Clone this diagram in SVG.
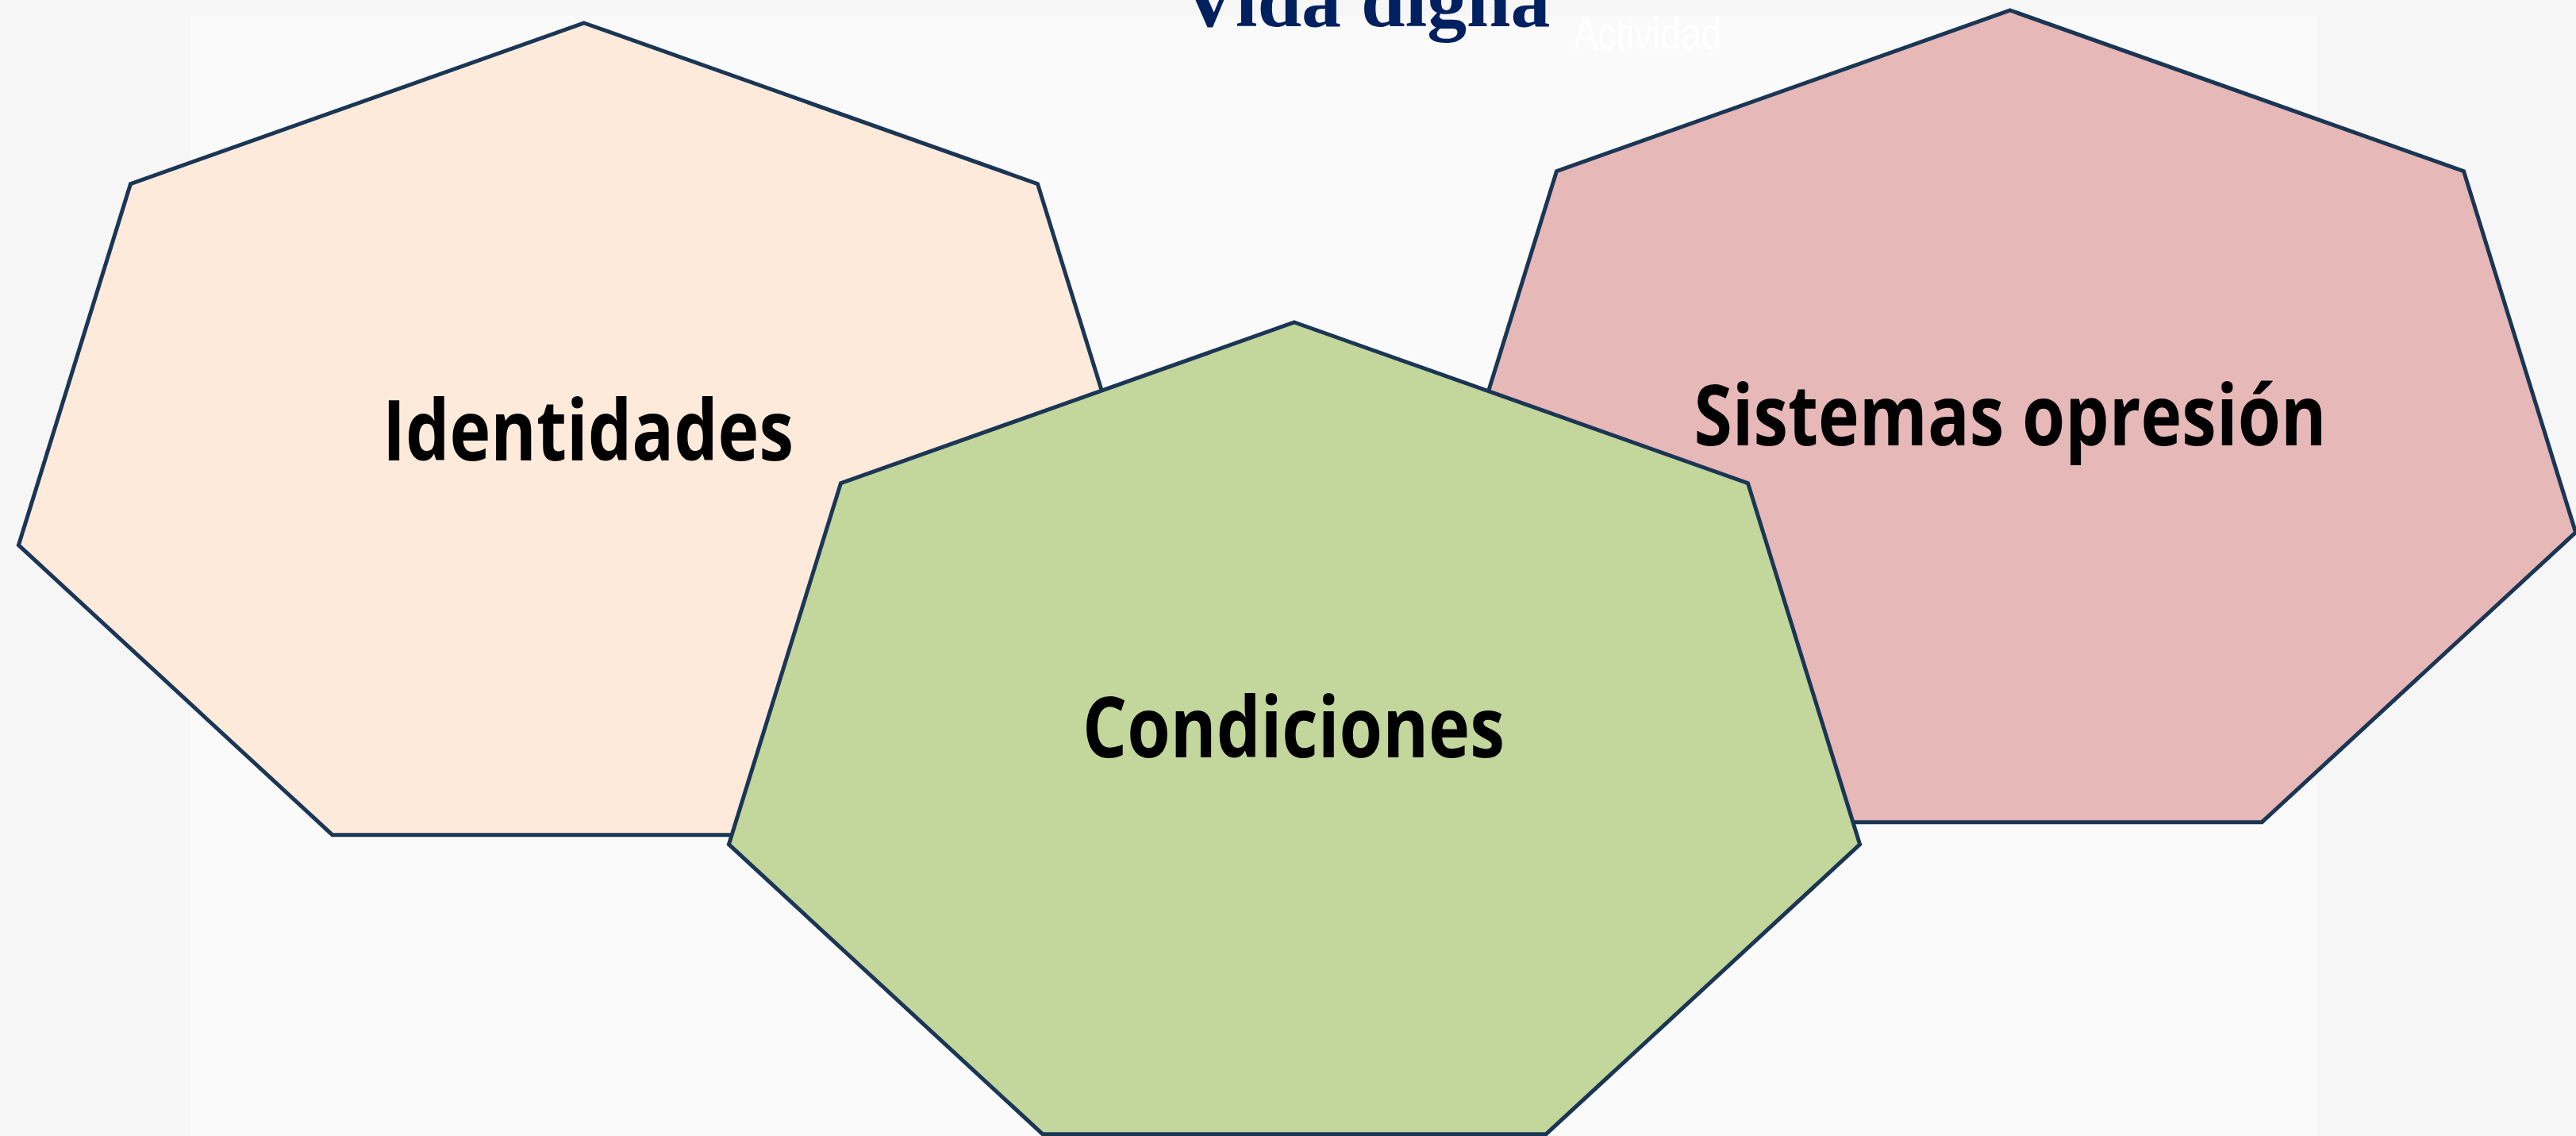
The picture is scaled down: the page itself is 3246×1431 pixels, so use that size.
<svg xmlns="http://www.w3.org/2000/svg" width="3246" height="1431" viewBox="0 0 3246 1431">
<style>
.hex{stroke:#1B3655;stroke-width:5;stroke-linejoin:miter}
.lbl{font-family:"Open Sans","Noto Sans","Liberation Sans",sans-serif;font-weight:bold;font-size:106px;fill:#000;text-anchor:middle}
</style>
<rect x="0" y="0" width="3246" height="1431" fill="#F6F6F7"/>
<rect x="240" y="20" width="2680" height="1411" fill="#FAFAFA"/>
<text x="1721" y="33" font-family="'Liberation Serif','Times New Roman',serif" font-weight="bold" font-size="98" fill="#002060" text-anchor="middle" textLength="465" lengthAdjust="spacingAndGlyphs">Vida digna</text>
<text x="2076" y="62" font-family="'Liberation Sans',Arial,sans-serif" font-size="58" fill="#FFFFFF" text-anchor="middle" textLength="187" lengthAdjust="spacingAndGlyphs">Actividad</text>
<g id="node-identidades">
<polygon class="hex" fill="#FDEADB" points="736,29 1307.5,231.6 1448.6,686.7 1053.2,1051.7 418.8,1051.7 23.4,686.7 164.5,231.6"/>
<text class="lbl" x="741" y="580" textLength="518" lengthAdjust="spacingAndGlyphs">Identidades</text>
</g>
<g id="node-sistemas">
<polygon class="hex" fill="#E6B8B7" points="2533,13 3104.5,215.6 3245.6,670.7 2850.2,1035.7 2215.8,1035.7 1820.4,670.7 1961.5,215.6"/>
<text class="lbl" x="2533" y="561" textLength="797" lengthAdjust="spacingAndGlyphs">Sistemas opresión</text>
</g>
<g id="node-condiciones">
<polygon class="hex" fill="#C3D69B" points="1631,406 2202.5,608.6 2343.6,1063.7 1948.2,1428.7 1313.8,1428.7 918.4,1063.7 1059.5,608.6"/>
<text class="lbl" x="1630" y="954" textLength="532" lengthAdjust="spacingAndGlyphs">Condiciones</text>
</g>
<g id="connectors"></g>
</svg>
